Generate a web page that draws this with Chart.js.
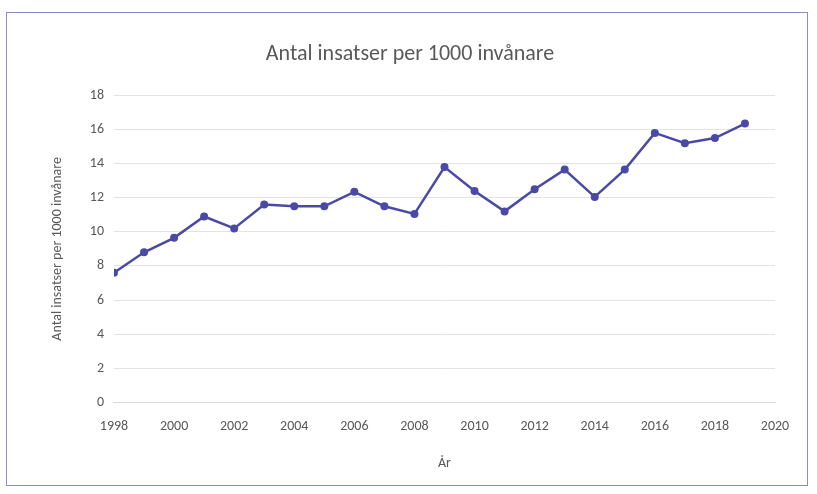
<!DOCTYPE html>
<html>
<head>
<meta charset="utf-8">
<script src="https://cdn.jsdelivr.net/npm/chart.js@4.4.0/dist/chart.umd.min.js"></script>
<style>
    html, body { margin: 0; padding: 0; background: #fff; }
    .frame {
        position: absolute; left: 6px; top: 12px;
        width: 802px; height: 474px;
        border: 1px solid #8c8cc8;
        box-sizing: border-box;
    }
    .wrap { position: absolute; left: 0; top: 0; width: 800px; height: 472px; }
</style>
</head>
<body>
<div class="frame"><div class="wrap"><canvas id="chart"></canvas></div></div>
<script>
// Data
const years = [1998, 1999, 2000, 2001, 2002, 2003, 2004, 2005, 2006, 2007, 2008,
               2009, 2010, 2011, 2012, 2013, 2014, 2015, 2016, 2017, 2018, 2019];
const insatser = [7.6, 8.8, 9.65, 10.9, 10.2, 11.6, 11.5, 11.5, 12.35, 11.5, 11.05,
                  13.8, 12.4, 11.2, 12.5, 13.65, 12.05, 13.65, 15.8, 15.2, 15.5, 16.35];

const titleText = 'Antal insatser per 1000 invånare';
const yTitle = 'Antal insatser per 1000 invånare';
const xTitle = 'År';

const grey = '#595959';
const lineColor = '#4a4aa6';
const fontFamily = 'Calibri, Carlito, "Open Sans", sans-serif';

new Chart(document.getElementById('chart'), {
    type: 'line',
    data: {
        datasets: [{
            label: yTitle,
            data: years.map((y, i) => ({ x: y, y: insatser[i] })),
            borderColor: lineColor,
            backgroundColor: lineColor,
            borderWidth: 2.5,
            pointRadius: 4,
            pointBorderWidth: 0,
            tension: 0
        }]
    },
    options: {
        responsive: true,
        maintainAspectRatio: false,
        animation: false,
        layout: { padding: { left: 38, right: 32, top: 28, bottom: 9 } },
        plugins: {
            legend: { display: false },
            title: {
                display: true,
                text: titleText,
                color: grey,
                font: { family: fontFamily, size: 22, weight: 'normal' },
                padding: { top: 0, bottom: 28 }
            },
            tooltip: { enabled: false }
        },
        scales: {
            x: {
                type: 'linear',
                min: 1998,
                max: 2020,
                ticks: {
                    stepSize: 2,
                    color: grey,
                    font: { family: fontFamily, size: 14 },
                    callback: v => String(v),
                    maxRotation: 0,
                    padding: 8
                },
                grid: { display: false },
                border: { color: '#d9d9d9' },
                title: {
                    display: true,
                    text: xTitle,
                    color: grey,
                    font: { family: fontFamily, size: 14 },
                    padding: { top: 12 }
                }
            },
            y: {
                min: 0,
                max: 18,
                ticks: {
                    stepSize: 2,
                    color: grey,
                    font: { family: fontFamily, size: 14 },
                    padding: 10
                },
                grid: { color: '#e3e3e3', drawTicks: false },
                border: { display: false },
                title: {
                    display: true,
                    text: yTitle,
                    color: grey,
                    font: { family: fontFamily, size: 14 },
                    padding: { bottom: 14 }
                }
            }
        }
    }
});
</script>
</body>
</html>
